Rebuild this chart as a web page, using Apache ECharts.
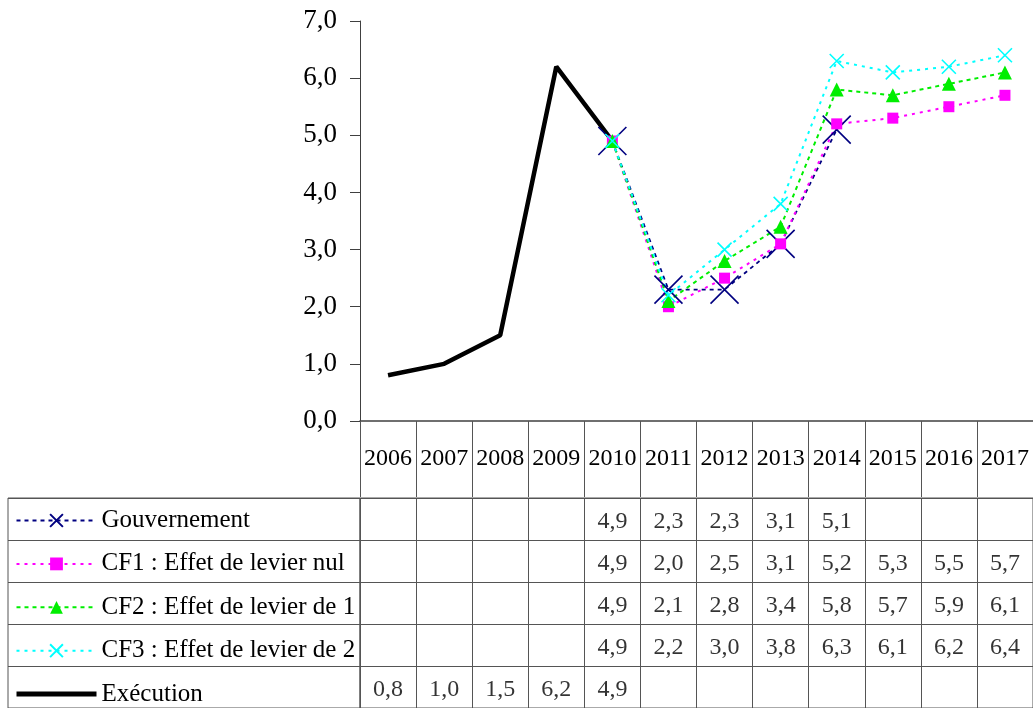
<!DOCTYPE html>
<html>
<head>
<meta charset="utf-8">
<script src="https://cdn.jsdelivr.net/npm/echarts@6/dist/echarts.min.js"></script>
<style>
  html, body { margin: 0; padding: 0; background: #fff; }
  #chart { width: 1033px; height: 708px; }
</style>
</head>
<body>
<div id="chart"></div>
<script>
// Years shown on the category axis and in the table header
const years = ['2006','2007','2008','2009','2010','2011','2012','2013','2014','2015','2016','2017'];

// Series values (null = no value for that year)
const gouvernement = [null, null, null, null, 4.9, 2.3, 2.3, 3.1, 5.1, null, null, null];
const cf1 = [null, null, null, null, 4.9, 2.0, 2.5, 3.1, 5.2, 5.3, 5.5, 5.7];
const cf2 = [null, null, null, null, 4.9, 2.1, 2.8, 3.4, 5.8, 5.7, 5.9, 6.1];
const cf3 = [null, null, null, null, 4.9, 2.2, 3.0, 3.8, 6.3, 6.1, 6.2, 6.4];
const execution = [0.8, 1.0, 1.5, 6.2, 4.9, null, null, null, null, null, null, null];

// Row names of the data table (same order as the rows)
const rowNames = ['Gouvernement', 'CF1 : Effet de levier nul', 'CF2 : Effet de levier de 1', 'CF3 : Effet de levier de 2', 'Exécution'];
const rowValues = [gouvernement, cf1, cf2, cf3, execution];

const FONT = 'Liberation Serif';
const GRID_LINE = '#555';
const fmt = v => v.toFixed(1).replace('.', ',');
const X_PATH = 'path://M0,0L20,20M20,0L0,20';

// Cells of the data table: [year index, row index, value]
const cells = [];
rowValues.forEach((vals, r) => vals.forEach((v, i) => { if (v !== null) cells.push([i, r, v]); }));

const chart = echarts.init(document.getElementById('chart'), null, { renderer: 'canvas' });

chart.setOption({
  animation: false,
  backgroundColor: '#fff',
  textStyle: { fontFamily: FONT },
  grid: [
    { left: 360, top: 21, width: 684, height: 400 },
    { left: 360, top: 498, width: 684, height: 218, show: true, borderColor: GRID_LINE, borderWidth: 1 },
    { left: 8, top: 498, width: 352, height: 218, show: true, borderColor: GRID_LINE, borderWidth: 1 }
  ],
  legend: {
    orient: 'vertical',
    left: 14,
    top: 508,
    padding: 0,
    itemWidth: 80,
    itemHeight: 16,
    itemGap: 18.4,
    textStyle: { fontFamily: FONT, fontSize: 25, color: '#000', lineHeight: 25 },
    data: rowNames.slice(0, 4).concat([{
      name: 'Exécution', itemStyle: { opacity: 0 }, lineStyle: { width: 5, color: '#000' }
    }]),
    selectedMode: false
  },
  xAxis: [
    {
      type: 'category', gridIndex: 0, data: years, boundaryGap: true,
      axisLine: { lineStyle: { color: '#404040', width: 1.5 } },
      axisTick: { show: true, interval: 0, length: 76, lineStyle: { color: GRID_LINE } },
      axisLabel: { interval: 0, margin: 26, fontFamily: FONT, fontSize: 24, color: '#000' },
      splitLine: { show: false }
    },
    {
      type: 'category', gridIndex: 1, data: years, boundaryGap: true,
      axisLine: { show: false }, axisTick: { show: false }, axisLabel: { show: false },
      splitLine: { show: true, interval: 0, lineStyle: { color: GRID_LINE } }
    },
    { type: 'value', gridIndex: 2, show: false }
  ],
  yAxis: [
    {
      type: 'value', gridIndex: 0, min: 0, max: 7, interval: 1,
      axisLine: { show: true, lineStyle: { color: '#404040' } },
      axisTick: { show: true, length: 10, lineStyle: { color: '#404040' } },
      axisLabel: { margin: 23, fontFamily: FONT, fontSize: 27, color: '#000', formatter: fmt },
      splitLine: { show: false }
    },
    {
      type: 'category', gridIndex: 1, data: rowNames, inverse: true,
      axisLine: { show: false }, axisTick: { show: false }, axisLabel: { show: false },
      splitLine: { show: true, interval: 0, lineStyle: { color: GRID_LINE } }
    },
    {
      type: 'category', gridIndex: 2, data: rowNames, inverse: true,
      axisLine: { show: false }, axisTick: { show: false }, axisLabel: { show: false },
      splitLine: { show: true, interval: 0, lineStyle: { color: GRID_LINE } }
    }
  ],
  series: [
    {
      name: 'Exécution', type: 'line', data: execution, xAxisIndex: 0, yAxisIndex: 0,
      symbol: 'none', color: '#000',
      lineStyle: { color: '#000', width: 4.5 }
    },
    {
      name: 'Gouvernement', type: 'line', data: gouvernement, xAxisIndex: 0, yAxisIndex: 0,
      symbol: X_PATH, symbolSize: 28, color: '#000080',
      itemStyle: { color: '#000080', borderColor: '#000080', borderWidth: 1.6 },
      lineStyle: { color: '#000080', width: 1.8, type: [4, 4] }
    },
    {
      name: 'CF1 : Effet de levier nul', type: 'line', data: cf1, xAxisIndex: 0, yAxisIndex: 0,
      symbol: 'rect', symbolSize: 11, color: '#ff00ff',
      itemStyle: { color: '#ff00ff' },
      lineStyle: { color: '#ff00ff', width: 2, type: [3, 5] }
    },
    {
      name: 'CF2 : Effet de levier de 1', type: 'line', data: cf2, xAxisIndex: 0, yAxisIndex: 0,
      symbol: 'triangle', symbolSize: 14, color: '#00ee00',
      itemStyle: { color: '#00ee00' },
      lineStyle: { color: '#00ee00', width: 2, type: [4, 4] }
    },
    {
      name: 'CF3 : Effet de levier de 2', type: 'line', data: cf3, xAxisIndex: 0, yAxisIndex: 0,
      symbol: X_PATH, symbolSize: 14, color: '#00ffff',
      itemStyle: { color: '#00ffff', borderColor: '#00ffff', borderWidth: 1.6 },
      lineStyle: { color: '#00ffff', width: 2, type: [3, 5] }
    },
    {
      name: 'table', type: 'scatter', xAxisIndex: 1, yAxisIndex: 1,
      data: cells, encode: { x: 0, y: 1 }, symbolSize: 0, silent: true,
      label: {
        show: true, position: 'inside', fontFamily: FONT, fontSize: 24, color: '#000',
        offset: [0, 3],
        formatter: p => fmt(p.value[2])
      }
    }
  ]
});
</script>
</body>
</html>
